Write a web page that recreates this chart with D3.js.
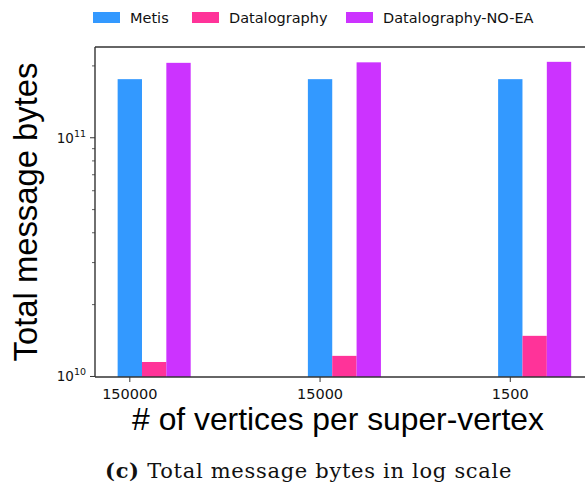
<!DOCTYPE html>
<html>
<head>
<meta charset="utf-8">
<script src="https://cdn.jsdelivr.net/npm/d3@7"></script>
<style>
  body { margin: 0; background: #fff; }
  svg { display: block; }
</style>
</head>
<body>
<div id="chart"></div>
<script>
'use strict';

// data
const categories = ['150000', '15000', '1500'];
const seriesNames = ['Metis', 'Datalography', 'Datalography-NO-EA'];
const seriesColors = ['#3399ff', '#ff3399', '#cc33ff'];
const metis = [1.76e11, 1.76e11, 1.76e11];
const datalography = [1.15e10, 1.22e10, 1.48e10];
const datalographyNoEa = [2.06e11, 2.07e11, 2.08e11];
const yMajorTicks = [1e10, 1e11];
const yMinorTicks = [2e10, 3e10, 4e10, 5e10, 6e10, 7e10, 8e10, 9e10, 2e11];

const series = [metis, datalography, datalographyNoEa];

const width = 585, height = 491;
const plot = { left: 95, top: 47, right: 594, bottom: 377 };
const barW = 0.128;

const svg = d3.select('#chart').append('svg')
  .attr('width', width)
  .attr('height', height);

const x = d3.scaleLinear()
  .domain([-0.183, 2.44])
  .range([plot.left, plot.right]);

const y = d3.scaleLog()
  .domain([0.995e10, 2.4e11])
  .range([plot.bottom, plot.top]);

// bars
series.forEach((vals, k) => {
  svg.append('g')
    .selectAll('rect')
    .data(vals)
    .join('rect')
    .attr('x', (d, i) => x(i + k * barW - barW / 2))
    .attr('width', x(barW) - x(0))
    .attr('y', d => y(d))
    .attr('height', d => plot.bottom - y(d))
    .attr('fill', seriesColors[k]);
});

// spines
svg.append('line')
  .attr('x1', plot.left).attr('x2', plot.right)
  .attr('y1', plot.top).attr('y2', plot.top)
  .attr('stroke', '#333').attr('stroke-width', 1.4);
svg.append('line')
  .attr('x1', plot.left).attr('x2', plot.right)
  .attr('y1', plot.bottom).attr('y2', plot.bottom)
  .attr('stroke', '#333').attr('stroke-width', 1.4);
svg.append('line')
  .attr('x1', plot.left).attr('x2', plot.left)
  .attr('y1', plot.top).attr('y2', plot.bottom)
  .attr('stroke', '#333').attr('stroke-width', 1.4);

// y ticks
const yAxis = svg.append('g');
yAxis.selectAll('line.major')
  .data(yMajorTicks)
  .join('line')
  .attr('x1', plot.left - 5).attr('x2', plot.left)
  .attr('y1', d => y(d)).attr('y2', d => y(d))
  .attr('stroke', '#333').attr('stroke-width', 1);
yAxis.selectAll('line.minor')
  .data(yMinorTicks)
  .join('line')
  .attr('x1', plot.left - 3).attr('x2', plot.left)
  .attr('y1', d => y(d)).attr('y2', d => y(d))
  .attr('stroke', '#333').attr('stroke-width', 0.8);

const yLabels = yAxis.selectAll('text')
  .data(yMajorTicks)
  .join('text')
  .attr('x', plot.left - 9)
  .attr('y', d => y(d) + 5)
  .attr('text-anchor', 'end')
  .attr('font-family', 'DejaVu Sans')
  .attr('font-size', 13.5)
  .attr('fill', '#111');
yLabels.append('tspan').text('10');
yLabels.append('tspan')
  .attr('font-size', 9.5)
  .attr('dy', -6)
  .text(d => Math.round(Math.log10(d)));

// x ticks
const xAxis = svg.append('g');
xAxis.selectAll('line')
  .data(categories)
  .join('line')
  .attr('x1', (d, i) => x(i)).attr('x2', (d, i) => x(i))
  .attr('y1', plot.bottom).attr('y2', plot.bottom + 5)
  .attr('stroke', '#333').attr('stroke-width', 1);
xAxis.selectAll('text')
  .data(categories)
  .join('text')
  .attr('x', (d, i) => x(i))
  .attr('y', plot.bottom + 22)
  .attr('text-anchor', 'middle')
  .attr('font-family', 'DejaVu Sans')
  .attr('font-size', 14.5)
  .attr('fill', '#111')
  .text(d => d);

// axis titles
svg.append('text')
  .attr('x', 338)
  .attr('y', 430)
  .attr('text-anchor', 'middle')
  .attr('font-family', 'Liberation Sans')
  .attr('font-size', 31.8)
  .attr('fill', '#000')
  .text('# of vertices per super-vertex');

svg.append('text')
  .attr('transform', 'translate(37,212) rotate(-90)')
  .attr('text-anchor', 'middle')
  .attr('font-family', 'Liberation Sans')
  .attr('font-size', 32.8)
  .attr('fill', '#000')
  .text('Total message bytes');

// legend
const legendX = [93, 192, 346];
const legend = svg.append('g');
seriesNames.forEach((name, k) => {
  legend.append('rect')
    .attr('x', legendX[k]).attr('y', 12)
    .attr('width', 27).attr('height', 11)
    .attr('fill', seriesColors[k]);
  legend.append('text')
    .attr('x', legendX[k] + 37)
    .attr('y', 23)
    .attr('font-family', 'DejaVu Sans')
    .attr('font-size', 14.5)
    .attr('fill', '#111')
    .text(name);
});

// caption
const caption = svg.append('text')
  .attr('x', 105)
  .attr('y', 478)
  .attr('font-family', 'DejaVu Serif')
  .attr('font-size', 21)
  .attr('letter-spacing', 0.7)
  .attr('fill', '#111');
caption.append('tspan').attr('font-weight', 'bold').text('(c)');
caption.append('tspan').text(' Total message bytes in log scale');
</script>
</body>
</html>
